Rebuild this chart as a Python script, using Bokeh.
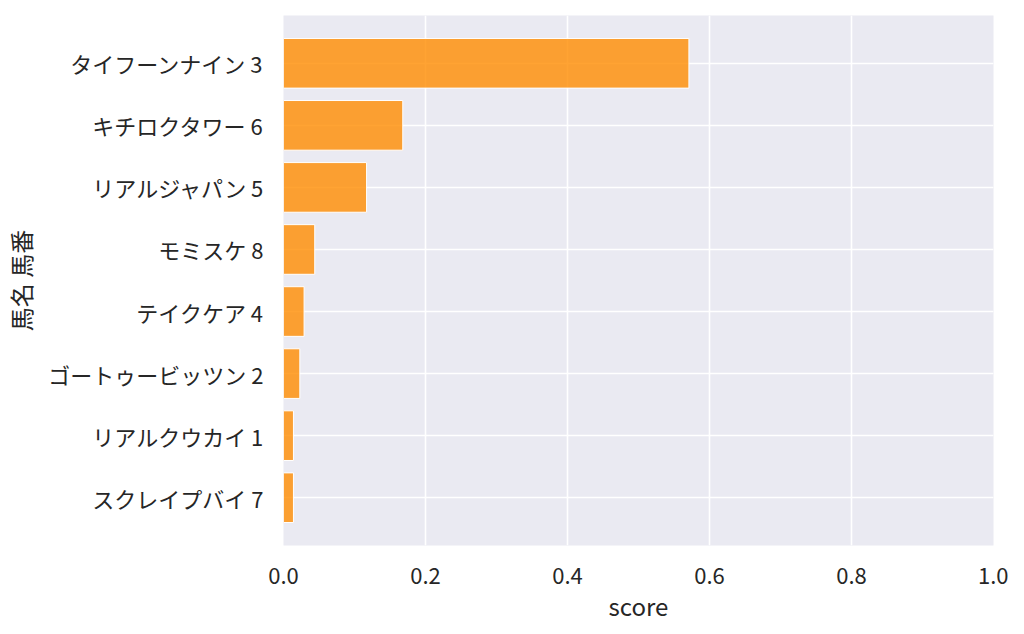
from bokeh.plotting import figure
from bokeh.models import FactorRange, ColumnDataSource, FixedTicker
from bokeh.embed import file_html
from bokeh.resources import INLINE

names = ["タイフーンナイン 3", "キチロクタワー 6", "リアルジャパン 5", "モミスケ 8",
         "テイクケア 4", "ゴートゥービッツン 2", "リアルクウカイ 1", "スクレイプバイ 7"]
scores = [0.571, 0.168, 0.117, 0.044, 0.029, 0.023, 0.014, 0.014]
x_ticks = [0.0, 0.2, 0.4, 0.6, 0.8, 1.0]

FONT = "Noto Sans CJK JP"
TXT = "#262626"

src = ColumnDataSource(dict(name=names, score=scores))

p = figure(width=1008, height=626, output_backend="svg", toolbar_location=None,
           y_range=FactorRange(factors=list(reversed(names)), range_padding=0.27,
                               range_padding_units="absolute"),
           x_range=(0, 1.0),
           min_border_left=283, min_border_top=15, min_border_right=15, min_border_bottom=81)

p.background_fill_color = "#EAEAF2"
p.border_fill_color = "white"
p.outline_line_color = None

p.hbar(y="name", right="score", left=0, height=0.8, source=src,
       fill_color="#FF8C00", fill_alpha=0.8, line_color="white", line_width=1)

p.xgrid.grid_line_color = "white"
p.ygrid.grid_line_color = "white"
p.xgrid.grid_line_width = 1.6
p.ygrid.grid_line_width = 1.6
p.grid.level = "underlay"

p.xaxis.ticker = FixedTicker(ticks=x_ticks)
p.xaxis.major_label_overrides = {t: f"{t:.1f}" for t in x_ticks}

for ax in (p.xaxis[0], p.yaxis[0]):
    ax.axis_line_color = None
    ax.major_tick_line_color = None
    ax.minor_tick_line_color = None
    ax.major_tick_out = 0
    ax.major_tick_in = 0
    ax.major_label_text_font = FONT
    ax.major_label_text_font_size = "22px"
    ax.major_label_text_color = TXT
    ax.axis_label_text_font = FONT
    ax.axis_label_text_font_size = "24px"
    ax.axis_label_text_font_style = "normal"
    ax.axis_label_text_color = TXT

p.xaxis.axis_label = "score"
p.yaxis.axis_label = "馬名 馬番"
p.xaxis.major_label_standoff = 22
p.yaxis.major_label_standoff = 20
p.xaxis.axis_label_standoff = 1
p.yaxis.axis_label_standoff = 7

open("out.html", "w").write(file_html(p, INLINE))
